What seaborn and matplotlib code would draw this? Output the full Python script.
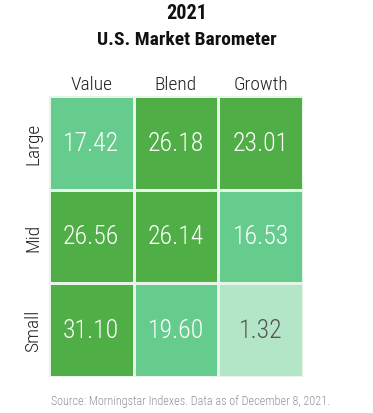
import numpy as np
import pandas as pd
import matplotlib
matplotlib.use("Agg")
import matplotlib.pyplot as plt
import seaborn as sns
from matplotlib.colors import ListedColormap, BoundaryNorm

# data
styles = ["Value", "Blend", "Growth"]
sizes = ["Large", "Mid", "Small"]
large_vals = [17.42, 26.18, 23.01]
mid_vals = [26.56, 26.14, 16.53]
small_vals = [31.10, 19.60, 1.32]

df = pd.DataFrame([large_vals, mid_vals, small_vals], index=sizes, columns=styles)

sns.set_theme(style="white")
plt.rcParams["font.family"] = ["Roboto Condensed", "DejaVu Sans"]

cmap = ListedColormap(["#b3e6c6", "#66cc8e", "#4fae45"])
norm = BoundaryNorm([-100, 10, 20, 100], cmap.N)

fig = plt.figure(figsize=(3.73, 4.14), dpi=100)
ax = fig.add_axes([0.131, 0.087, 0.681, 0.679])

sns.heatmap(df, ax=ax, cmap=cmap, norm=norm, cbar=False, annot=False,
            linewidths=1, linecolor="#e6f4ea")

for i, row in enumerate(df.values):
    for j, v in enumerate(row):
        color = "#555555" if v < 10 else "white"
        ax.text(j + 0.5, i + 0.5, f"{v:.2f}", ha="center", va="center",
                fontsize=18.5, color=color, fontweight="light")

ax.xaxis.tick_top()
ax.set_xticklabels(styles, fontsize=14, color="#222222", fontweight="light")
ax.set_yticklabels(sizes, fontsize=14, color="#222222", rotation=90, va="center",
                   fontweight="light")
ax.tick_params(axis="x", length=0, pad=2)
ax.tick_params(axis="y", length=0, pad=5)
ax.set_xlabel("")
ax.set_ylabel("")

fig.text(0.5, 0.968, "2021", ha="center", va="center", fontsize=14.5,
         fontweight="bold", color="#111111")
fig.text(0.5, 0.903, "U.S. Market Barometer", ha="center", va="center",
         fontsize=14, fontweight="bold", color="#111111")
fig.text(0.137, 0.029, "Source: Morningstar Indexes. Data as of December 8, 2021.",
         ha="left", va="center", fontsize=8.7, color="#939393", fontweight="light")

fig.savefig("out.png", dpi=100)
